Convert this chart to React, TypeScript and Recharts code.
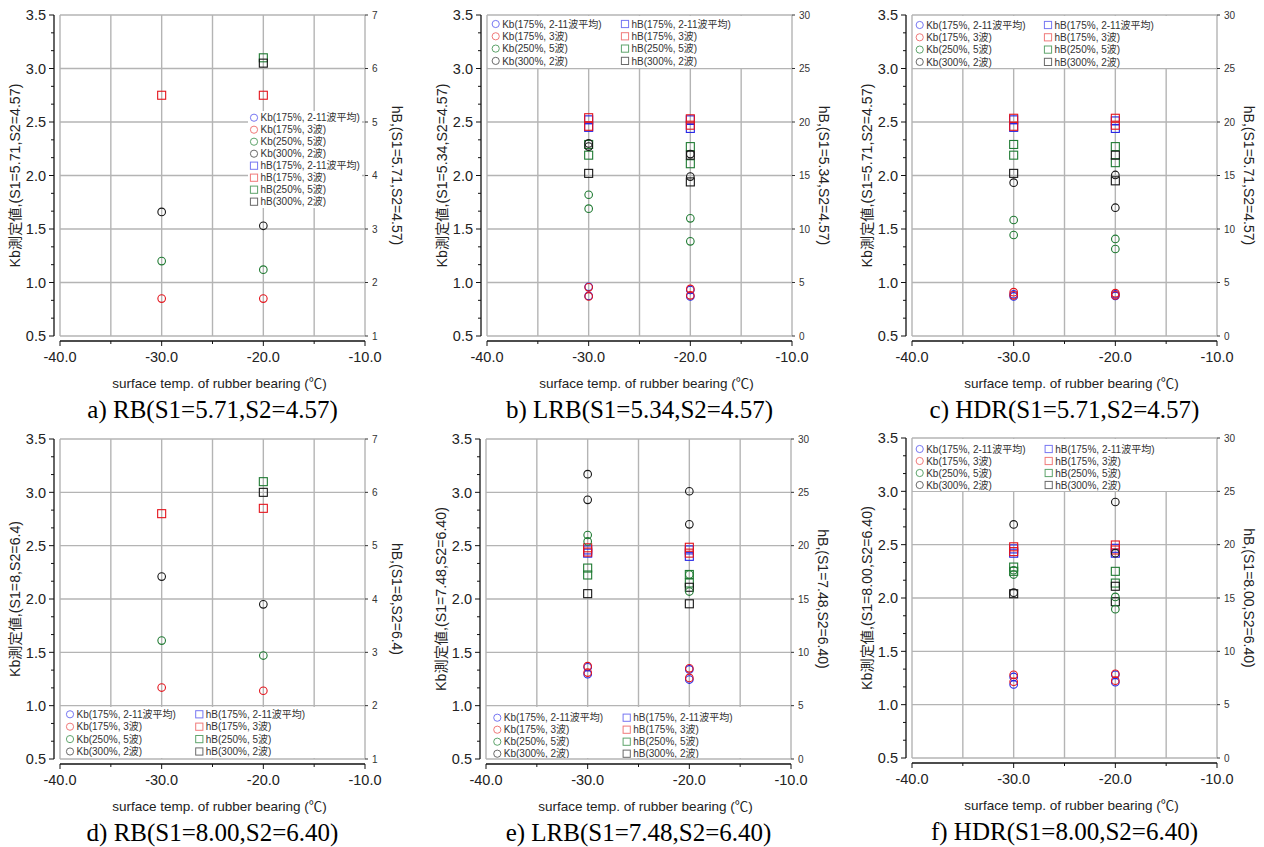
import React from "react";
import { ScatterChart, Scatter, XAxis, YAxis, CartesianGrid, Legend } from "recharts";

type Pt = { t: number; g: number; v: number };

const SANS = '"Liberation Sans", "Noto Sans CJK JP", Arial, sans-serif';
const SERIF = '"Liberation Serif", "DejaVu Serif", serif';

// 軸目盛
const TEMP_TICKS = [-40, -35, -30, -25, -20, -15, -10];
const KB_TICKS = [0.5, 1.0, 1.5, 2.0, 2.5, 3.0, 3.5];
const HB_TICKS_RB = [1, 2, 3, 4, 5, 6, 7];
const HB_TICKS = [0, 5, 10, 15, 20, 25, 30];
const KB_TICKS_ALL = KB_TICKS.flatMap((v, i) =>
  i === KB_TICKS.length - 1 ? [v] : [v, v + 1 / 6, v + 2 / 6]
);

// 系列 (g = index)
const GROUPS = ["175%, 2-11波平均", "175%, 3波", "250%, 5波", "300%, 2波"];
const MARK_COLORS = ["#2323e6", "#e4141c", "#1f7a32", "#151515"];
const KEY_COLORS = ["#7777f2", "#f07a7a", "#5ea46c", "#6a6a6a"];

// a) RB(S1=5.71,S2=4.57)
const rbA_Kb: Pt[] = [
  { t: -30, g: 1, v: 0.85 }, { t: -20, g: 1, v: 0.85 },
  { t: -30, g: 2, v: 1.2 }, { t: -20, g: 2, v: 1.12 },
  { t: -30, g: 3, v: 1.66 }, { t: -20, g: 3, v: 1.53 },
];
const rbA_hB: Pt[] = [
  { t: -30, g: 1, v: 5.5 }, { t: -20, g: 1, v: 5.5 },
  { t: -20, g: 2, v: 6.2 },
  { t: -20, g: 3, v: 6.1 },
];

// b) LRB(S1=5.34,S2=4.57)
const lrbB_Kb: Pt[] = [
  { t: -30, g: 0, v: 0.96 }, { t: -30, g: 0, v: 0.875 }, { t: -20, g: 0, v: 0.93 }, { t: -20, g: 0, v: 0.87 },
  { t: -30, g: 1, v: 0.955 }, { t: -30, g: 1, v: 0.87 }, { t: -20, g: 1, v: 0.94 }, { t: -20, g: 1, v: 0.88 },
  { t: -30, g: 2, v: 1.82 }, { t: -30, g: 2, v: 1.69 }, { t: -20, g: 2, v: 1.6 }, { t: -20, g: 2, v: 1.385 },
  { t: -30, g: 3, v: 2.3 }, { t: -30, g: 3, v: 2.27 }, { t: -20, g: 3, v: 2.2 }, { t: -20, g: 3, v: 1.99 },
];
const lrbB_hB: Pt[] = [
  { t: -30, g: 0, v: 20.2 }, { t: -30, g: 0, v: 19.5 }, { t: -20, g: 0, v: 20.2 }, { t: -20, g: 0, v: 19.4 },
  { t: -30, g: 1, v: 20.4 }, { t: -30, g: 1, v: 19.6 }, { t: -20, g: 1, v: 20.3 }, { t: -20, g: 1, v: 19.7 },
  { t: -30, g: 2, v: 17.9 }, { t: -30, g: 2, v: 16.9 }, { t: -20, g: 2, v: 17.7 }, { t: -20, g: 2, v: 16.1 },
  { t: -30, g: 3, v: 15.2 }, { t: -20, g: 3, v: 16.9 }, { t: -20, g: 3, v: 14.4 },
];

// c) HDR(S1=5.71,S2=4.57)
const hdrC_Kb: Pt[] = [
  { t: -30, g: 0, v: 0.89 }, { t: -30, g: 0, v: 0.87 }, { t: -20, g: 0, v: 0.89 }, { t: -20, g: 0, v: 0.875 },
  { t: -30, g: 1, v: 0.91 }, { t: -30, g: 1, v: 0.88 }, { t: -20, g: 1, v: 0.9 }, { t: -20, g: 1, v: 0.88 },
  { t: -30, g: 2, v: 1.584 }, { t: -30, g: 2, v: 1.444 }, { t: -20, g: 2, v: 1.407 }, { t: -20, g: 2, v: 1.313 },
  { t: -30, g: 3, v: 1.933 }, { t: -20, g: 3, v: 2.005 }, { t: -20, g: 3, v: 1.699 },
];
const hdrC_hB: Pt[] = [
  { t: -30, g: 0, v: 20.2 }, { t: -30, g: 0, v: 19.5 }, { t: -20, g: 0, v: 20.1 }, { t: -20, g: 0, v: 19.4 },
  { t: -30, g: 1, v: 20.35 }, { t: -30, g: 1, v: 19.6 }, { t: -20, g: 1, v: 20.35 }, { t: -20, g: 1, v: 19.7 },
  { t: -30, g: 2, v: 17.9 }, { t: -30, g: 2, v: 16.9 }, { t: -20, g: 2, v: 17.7 }, { t: -20, g: 2, v: 16.2 },
  { t: -30, g: 3, v: 15.2 }, { t: -20, g: 3, v: 16.9 }, { t: -20, g: 3, v: 14.5 },
];

// d) RB(S1=8.00,S2=6.40)
const rbD_Kb: Pt[] = [
  { t: -30, g: 1, v: 1.17 }, { t: -20, g: 1, v: 1.14 },
  { t: -30, g: 2, v: 1.61 }, { t: -20, g: 2, v: 1.47 },
  { t: -30, g: 3, v: 2.21 }, { t: -20, g: 3, v: 1.95 },
];
const rbD_hB: Pt[] = [
  { t: -30, g: 1, v: 5.6 }, { t: -20, g: 1, v: 5.7 },
  { t: -20, g: 2, v: 6.2 },
  { t: -20, g: 3, v: 6.0 },
];

// e) LRB(S1=7.48,S2=6.40)
const lrbE_Kb: Pt[] = [
  { t: -30, g: 0, v: 1.36 }, { t: -30, g: 0, v: 1.295 }, { t: -20, g: 0, v: 1.34 }, { t: -20, g: 0, v: 1.245 },
  { t: -30, g: 1, v: 1.37 }, { t: -30, g: 1, v: 1.31 }, { t: -20, g: 1, v: 1.35 }, { t: -20, g: 1, v: 1.26 },
  { t: -30, g: 2, v: 2.6 }, { t: -30, g: 2, v: 2.54 }, { t: -20, g: 2, v: 2.23 }, { t: -20, g: 2, v: 2.07 },
  { t: -30, g: 3, v: 3.17 }, { t: -30, g: 3, v: 2.93 }, { t: -20, g: 3, v: 3.01 }, { t: -20, g: 3, v: 2.7 },
];
const lrbE_hB: Pt[] = [
  { t: -30, g: 0, v: 19.6 }, { t: -30, g: 0, v: 19.3 }, { t: -20, g: 0, v: 19.6 }, { t: -20, g: 0, v: 19.0 },
  { t: -30, g: 1, v: 19.8 }, { t: -30, g: 1, v: 19.4 }, { t: -20, g: 1, v: 19.85 }, { t: -20, g: 1, v: 19.3 },
  { t: -30, g: 2, v: 17.9 }, { t: -30, g: 2, v: 17.25 }, { t: -20, g: 2, v: 17.3 }, { t: -20, g: 2, v: 16.5 },
  { t: -30, g: 3, v: 15.5 }, { t: -20, g: 3, v: 16.1 }, { t: -20, g: 3, v: 14.55 },
];

// f) HDR(S1=8.00,S2=6.40)
const hdrF_Kb: Pt[] = [
  { t: -30, g: 0, v: 1.26 }, { t: -30, g: 0, v: 1.19 }, { t: -20, g: 0, v: 1.28 }, { t: -20, g: 0, v: 1.21 },
  { t: -30, g: 1, v: 1.28 }, { t: -30, g: 1, v: 1.215 }, { t: -20, g: 1, v: 1.29 }, { t: -20, g: 1, v: 1.225 },
  { t: -30, g: 2, v: 2.26 }, { t: -30, g: 2, v: 2.22 }, { t: -20, g: 2, v: 2.01 }, { t: -20, g: 2, v: 1.895 },
  { t: -30, g: 3, v: 2.69 }, { t: -30, g: 3, v: 2.05 }, { t: -20, g: 3, v: 2.9 }, { t: -20, g: 3, v: 2.42 },
];
const hdrF_hB: Pt[] = [
  { t: -30, g: 0, v: 19.6 }, { t: -30, g: 0, v: 19.2 }, { t: -20, g: 0, v: 19.66 }, { t: -20, g: 0, v: 19.2 },
  { t: -30, g: 1, v: 19.8 }, { t: -30, g: 1, v: 19.35 }, { t: -20, g: 1, v: 19.97 }, { t: -20, g: 1, v: 19.5 },
  { t: -30, g: 2, v: 17.9 }, { t: -30, g: 2, v: 17.5 }, { t: -20, g: 2, v: 17.5 }, { t: -20, g: 2, v: 16.4 },
  { t: -30, g: 3, v: 15.4 }, { t: -20, g: 3, v: 16.1 }, { t: -20, g: 3, v: 14.65 },
];

type KeyCfg = {
  left: number; top: number; width: number; height: number;
  cols: 1 | 2; x1: number; x2: number; y0: number; dy: number;
};

type PanelCfg = {
  x0: number; y0: number; w: number; h: number;
  plotLeft: number; plotTop: number; plotH: number;
  kb: Pt[]; hb: Pt[];
  hbTicks: number[]; hbDomain: [number, number];
  kbTitle: string; hbTitle: string; caption: string;
  key: KeyCfg;
};

const PLOT_W = 305;

const PANELS: PanelCfg[] = [
  {
    x0: 0, y0: 0, w: 421, h: 425, plotLeft: 60, plotTop: 15, plotH: 321,
    kb: rbA_Kb, hb: rbA_hB, hbTicks: HB_TICKS_RB, hbDomain: [1, 7],
    kbTitle: "Kb測定値,(S1=5.71,S2=4.57)", hbTitle: "hB,(S1=5.71,S2=4.57)",
    caption: "a) RB(S1=5.71,S2=4.57)",
    key: { left: 248, top: 111, width: 114, height: 97, cols: 1, x1: 6, x2: 0, y0: 6.7, dy: 12 },
  },
  {
    x0: 421, y0: 0, w: 421, h: 425, plotLeft: 66, plotTop: 15, plotH: 321,
    kb: lrbB_Kb, hb: lrbB_hB, hbTicks: HB_TICKS, hbDomain: [0, 30],
    kbTitle: "Kb測定値,(S1=5.34,S2=4.57)", hbTitle: "hB,(S1=5.34,S2=4.57)",
    caption: "b) LRB(S1=5.34,S2=4.57)",
    key: { left: 67, top: 16, width: 303, height: 52, cols: 2, x1: 7.7, x2: 137, y0: 8, dy: 12.3 },
  },
  {
    x0: 842, y0: 0, w: 422, h: 425, plotLeft: 70, plotTop: 15, plotH: 321,
    kb: hdrC_Kb, hb: hdrC_hB, hbTicks: HB_TICKS, hbDomain: [0, 30],
    kbTitle: "Kb測定値,(S1=5.71,S2=4.57)", hbTitle: "hB,(S1=5.71,S2=4.57)",
    caption: "c) HDR(S1=5.71,S2=4.57)",
    key: { left: 71, top: 16, width: 303, height: 52, cols: 2, x1: 6.7, x2: 135, y0: 9, dy: 12.3 },
  },
  {
    x0: 0, y0: 425, w: 421, h: 422, plotLeft: 60, plotTop: 14, plotH: 320,
    kb: rbD_Kb, hb: rbD_hB, hbTicks: HB_TICKS_RB, hbDomain: [1, 7],
    kbTitle: "Kb測定値,(S1=8,S2=6.4)", hbTitle: "hB,(S1=8,S2=6.4)",
    caption: "d) RB(S1=8.00,S2=6.40)",
    key: { left: 61, top: 282, width: 254, height: 51, cols: 2, x1: 9, x2: 138.3, y0: 7.3, dy: 12.4 },
  },
  {
    x0: 421, y0: 425, w: 421, h: 422, plotLeft: 65, plotTop: 14, plotH: 320,
    kb: lrbE_Kb, hb: lrbE_hB, hbTicks: HB_TICKS, hbDomain: [0, 30],
    kbTitle: "Kb測定値,(S1=7.48,S2=6.40)", hbTitle: "hB,(S1=7.48,S2=6.40)",
    caption: "e) LRB(S1=7.48,S2=6.40)",
    key: { left: 66, top: 282, width: 254, height: 51, cols: 2, x1: 10.3, x2: 139.7, y0: 10.7, dy: 12 },
  },
  {
    x0: 842, y0: 425, w: 422, h: 422, plotLeft: 70, plotTop: 13, plotH: 320,
    kb: hdrF_Kb, hb: hdrF_hB, hbTicks: HB_TICKS, hbDomain: [0, 30],
    kbTitle: "Kb測定値,(S1=8.00,S2=6.40)", hbTitle: "hB,(S1=8.00,S2=6.40)",
    caption: "f) HDR(S1=8.00,S2=6.40)",
    key: { left: 71, top: 14, width: 303, height: 52, cols: 2, x1: 6.7, x2: 135.7, y0: 10, dy: 12 },
  },
];

const ring = (color: string) => (p: any) =>
  <circle cx={p.cx} cy={p.cy} r={3.8} fill="none" stroke={color} strokeWidth={1.1} />;
const box = (color: string) => (p: any) =>
  <rect x={p.cx - 4} y={p.cy - 4} width={8} height={8} fill="none" stroke={color} strokeWidth={1.1} />;

// 左軸: 主目盛にラベル, 副目盛は線のみ
function KbTick(props: any) {
  const { x, y, payload } = props;
  const v = payload.value as number;
  const major = Math.abs(v * 2 - Math.round(v * 2)) < 1e-6;
  const ax = x + 8;
  return (
    <g>
      <line x1={ax - (major ? 5 : 3)} x2={ax} y1={y} y2={y} stroke="#111" strokeWidth={1} />
      {major && (
        <text x={x} y={y} dy="0.36em" textAnchor="end" fontSize={14.5} fill="#222" fontFamily={SANS}>
          {v.toFixed(1)}
        </text>
      )}
    </g>
  );
}

function TempTick(props: any) {
  const { x, y, payload } = props;
  const v = payload.value as number;
  const major = v % 10 === 0;
  const ay = y - 5;
  return (
    <g>
      <line x1={x} x2={x} y1={ay} y2={ay + (major ? 5 : 3)} stroke="#111" strokeWidth={1} />
      {major && (
        <text x={x} y={ay + 21} textAnchor="middle" fontSize={14.5} fill="#222" fontFamily={SANS}>
          {v.toFixed(1)}
        </text>
      )}
    </g>
  );
}

function KeyBox({ k }: { k: KeyCfg }) {
  const items = [
    ...GROUPS.map((g, i) => ({ c: true, label: `Kb(${g})`, i })),
    ...GROUPS.map((g, i) => ({ c: false, label: `hB(${g})`, i })),
  ];
  return (
    <svg width={k.width} height={k.height} style={{ display: "block" }}>
      <rect width={k.width} height={k.height} fill="#fff" />
      {items.map((it, n) => {
        const col = k.cols === 1 ? 0 : Math.floor(n / 4);
        const row = k.cols === 1 ? n : n % 4;
        const cx = col === 0 ? k.x1 : k.x2;
        const cy = k.y0 + row * k.dy;
        const color = KEY_COLORS[it.i];
        return (
          <g key={n}>
            {it.c ? (
              <circle cx={cx} cy={cy} r={3.6} fill="none" stroke={color} strokeWidth={1} />
            ) : (
              <rect x={cx - 3.6} y={cy - 3.6} width={7.2} height={7.2} fill="none" stroke={color} strokeWidth={1} />
            )}
            <text x={cx + 6.5} y={cy} dy="0.36em" fontSize={10} fill="#333" fontFamily={SANS}>
              {it.label}
            </text>
          </g>
        );
      })}
    </svg>
  );
}

function Panel({ cfg }: { cfg: PanelCfg }) {
  const axisH = cfg.h - cfg.plotTop - cfg.plotH - 5;
  const hbW = cfg.w - cfg.plotLeft - PLOT_W;
  return (
    <div style={{ position: "absolute", left: cfg.x0, top: cfg.y0 }}>
      <ScatterChart
        width={cfg.w}
        height={cfg.h}
        margin={{ top: cfg.plotTop, right: 0, bottom: 0, left: 0 }}
      >
        <CartesianGrid xAxisId="t" yAxisId="hb" stroke="#b4b4b4" strokeWidth={1.4} />
        <XAxis xAxisId="gap" type="number" domain={[-40, -10]} height={5}
          tick={false} tickLine={false} axisLine={false} />
        <XAxis
          xAxisId="t" type="number" dataKey="t" domain={[-40, -10]}
          ticks={TEMP_TICKS} interval={0} height={axisH}
          tickSize={5} tickMargin={0} tickLine={false}
          axisLine={{ stroke: "#111", strokeWidth: 1.3 }}
          tick={TempTick}
          label={{
            content: (p: any) => {
              const vb = p.viewBox;
              const cx = vb.x + vb.width / 2;
              return (
                <g>
                  <text x={cx + 7} y={vb.y + 46.5} textAnchor="middle" fontSize={13.5} fill="#222" fontFamily={SANS}>
                    surface temp. of rubber bearing (℃)
                  </text>
                  <text x={cx} y={vb.y + 77} textAnchor="middle" fontSize={25} fill="#000" fontFamily={SERIF}>
                    {cfg.caption}
                  </text>
                </g>
              );
            },
          }}
        />
        <YAxis yAxisId="gap" type="number" domain={[0.5, 3.5]} width={6}
          tick={false} tickLine={false} axisLine={false} />
        <YAxis
          yAxisId="kb" type="number" dataKey="v" domain={[0.5, 3.5]}
          ticks={KB_TICKS_ALL} interval={0} width={cfg.plotLeft - 6}
          tickSize={8} tickMargin={0} tickLine={false}
          axisLine={{ stroke: "#111", strokeWidth: 1.3 }}
          tick={KbTick}
          label={{
            content: (p: any) => {
              const vb = p.viewBox;
              const x = vb.x + vb.width - 39;
              const y = vb.y + vb.height / 2;
              return (
                <text x={x} y={y} transform={`rotate(-90 ${x} ${y})`} textAnchor="middle"
                  dominantBaseline="central" fontSize={14.2} fill="#222" fontFamily={SANS}>
                  {cfg.kbTitle}
                </text>
              );
            },
          }}
        />
        <YAxis
          yAxisId="hb" orientation="right" type="number" dataKey="v" domain={cfg.hbDomain}
          ticks={cfg.hbTicks} interval={0} width={hbW}
          tickSize={3} tickMargin={4} tickLine={{ stroke: "#333" }} axisLine={false}
          tick={{ fontSize: 10, fill: "#333", fontFamily: SANS }}
          label={{
            content: (p: any) => {
              const vb = p.viewBox;
              const x = vb.x + 32;
              const y = vb.y + vb.height / 2;
              return (
                <text x={x} y={y} transform={`rotate(90 ${x} ${y})`} textAnchor="middle"
                  dominantBaseline="central" fontSize={14} fill="#222" fontFamily={SANS}>
                  {cfg.hbTitle}
                </text>
              );
            },
          }}
        />
        {GROUPS.map((_, g) => (
          <Scatter key={"h" + g} xAxisId="t" yAxisId="hb" data={cfg.hb.filter((p) => p.g === g)}
            shape={box(MARK_COLORS[g])} isAnimationActive={false} />
        ))}
        {GROUPS.map((_, g) => (
          <Scatter key={"k" + g} xAxisId="t" yAxisId="kb" data={cfg.kb.filter((p) => p.g === g)}
            shape={ring(MARK_COLORS[g])} isAnimationActive={false} />
        ))}
        <Legend
          layout="vertical" align="center" verticalAlign="middle"
          wrapperStyle={{
            left: cfg.key.left, top: cfg.key.top,
            width: cfg.key.width, height: cfg.key.height, lineHeight: 0,
          }}
          content={() => <KeyBox k={cfg.key} />}
        />
      </ScatterChart>
    </div>
  );
}

export default function App() {
  return (
    <div style={{ position: "absolute", left: 0, top: 0, width: 1264, height: 847, background: "#fff", overflow: "hidden" }}>
      {PANELS.map((cfg, i) => (
        <Panel key={i} cfg={cfg} />
      ))}
    </div>
  );
}
